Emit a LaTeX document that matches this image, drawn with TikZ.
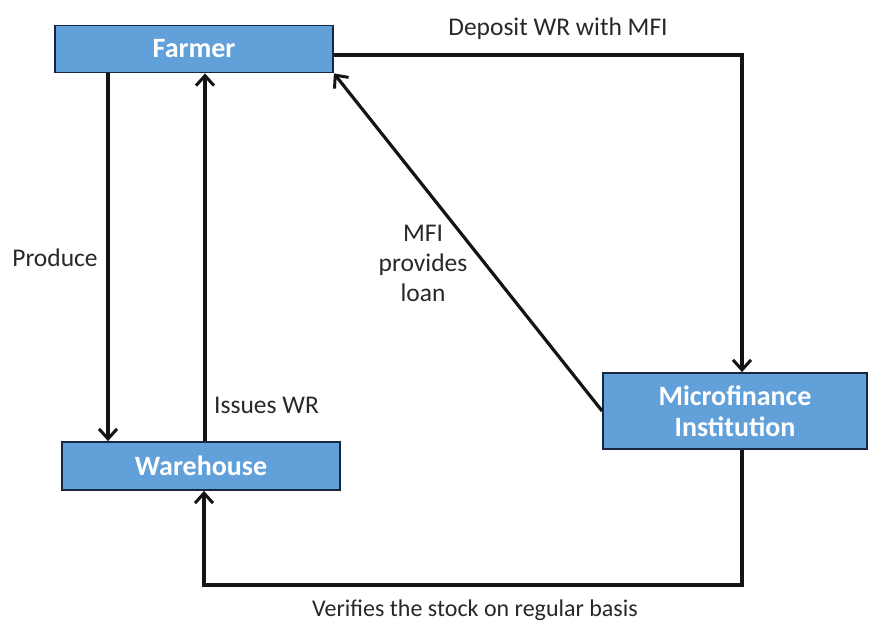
\documentclass[tikz,border=0pt]{standalone}
\usepackage{fontspec}
\setmainfont{Carlito}
\usetikzlibrary{arrows.meta}
\definecolor{boxfill}{RGB}{98,160,218}
\definecolor{boxline}{RGB}{24,38,64}
\definecolor{linecol}{RGB}{20,20,20}
\definecolor{labcol}{RGB}{40,40,40}
\begin{document}
\begin{tikzpicture}[x=1pt,y=-1pt,
  blockbox/.style={draw=boxline,line width=1.8pt,fill=boxfill,text=white,font=\fontsize{28}{31}\selectfont\bfseries,align=center,inner sep=0pt},
  conn/.style={draw=linecol,line width=3.2pt,-{Straight Barb[length=10pt,width=18pt,line width=3pt]}},
  lab/.style={text=labcol,font=\fontsize{25.5}{30}\selectfont,align=center,inner sep=0pt}]
\useasboundingbox (0,0) rectangle (869,625);
\node[blockbox,minimum width=278pt,minimum height=47pt] (farmer) at (194,49) {Farmer};
\node[blockbox,minimum width=278pt,minimum height=48pt] (wh) at (201,466) {Warehouse};
\node[blockbox,minimum width=264pt,minimum height=76pt] (mfi) at (735,411) {Microfinance\\Institution};
\coordinate (c1) at (742,55);
\coordinate (c2) at (742,585);
\coordinate (c3) at (204,585);
\draw[conn] (farmer.south west -| 108,0) -- (wh.north west -| 108,0);
\draw[conn] (wh.north west -| 205,0) -- (farmer.south west -| 205,0);
\draw[conn] (farmer.east |- c1) -- (c1) -- (mfi.north -| c1);
\draw[conn] (mfi.west) -- (farmer.south east);
\draw[conn] (mfi.south -| c2) -- (c2) -- (c3) -- (wh.south -| c3);
\node[lab] (l1) at (558,29) {Deposit WR with MFI};
\node[lab] (l2) at (55,258) {Produce};
\node[lab] (l3) at (423,263) {MFI\\provides\\loan};
\node[lab,anchor=west] (l4) at (214,405) {Issues WR};
\node[lab,font=\fontsize{24}{28}\selectfont] (l5) at (475,610) {Verifies the stock on regular basis};
\end{tikzpicture}
\end{document}
